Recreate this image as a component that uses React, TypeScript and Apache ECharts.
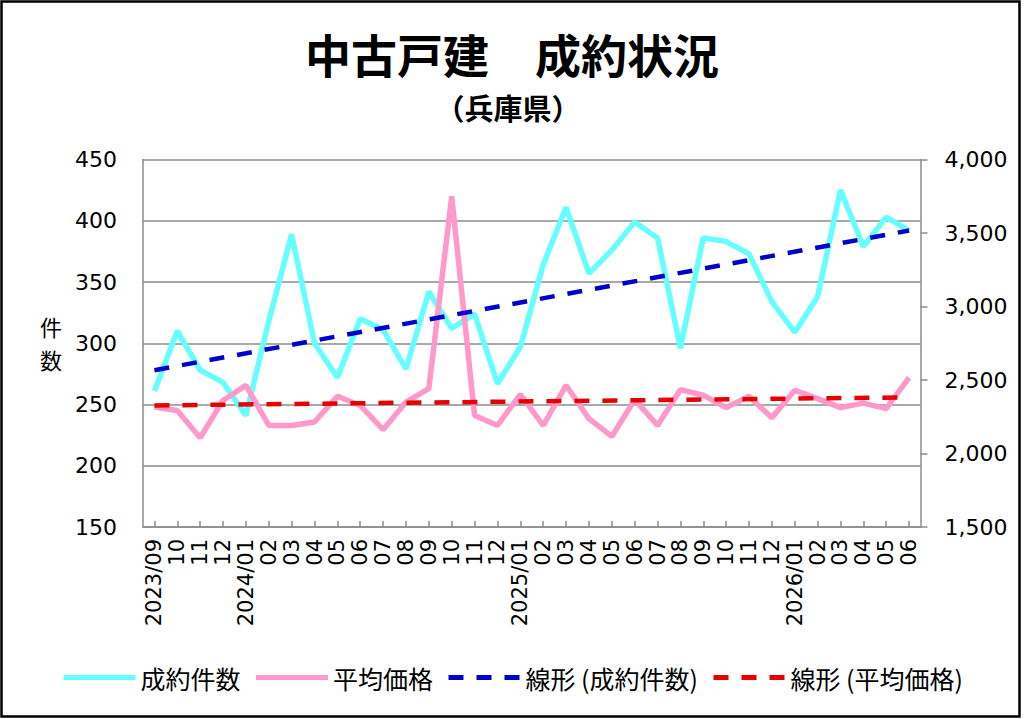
import React, { useEffect, useRef } from "react";
import * as echarts from "echarts";

const categories = [
  "2023/09", "10", "11", "12",
  "2024/01", "02", "03", "04", "05", "06", "07", "08", "09", "10", "11", "12",
  "2025/01", "02", "03", "04", "05", "06", "07", "08", "09", "10", "11", "12",
  "2026/01", "02", "03", "04", "05", "06",
];

const countValues = [
  261, 310, 278, 268, 241, 318, 389, 300, 272, 320, 311, 279, 342, 312, 324, 267,
  297, 364, 411, 357, 376, 399, 386, 296, 386, 383, 373, 334, 309, 338, 425, 379, 403, 392,
];

const priceValues = [
  2316, 2293, 2107, 2361, 2464, 2191, 2191, 2214, 2389, 2327, 2162, 2350, 2441, 3750, 2259, 2191,
  2402, 2191, 2464, 2237, 2116, 2366, 2191, 2434, 2396, 2312, 2389, 2243, 2430, 2373, 2312, 2343, 2305, 2516,
];

// trend line end values (first and last month)
const countTrend = [278, 392];
const priceTrend = [2327, 2382];

const leftTicks = { min: 150, max: 450, interval: 50 };
const rightTicks = { min: 1500, max: 4000, interval: 500 };

const FONT = "'DejaVu Sans', 'Noto Sans CJK JP', sans-serif";
const CJK = "'Noto Sans CJK JP', sans-serif";

export default function App() {
  const ref = useRef<HTMLDivElement>(null);

  useEffect(() => {
    document.body.style.margin = "0";
    if (!ref.current) return;
    const chart = echarts.init(ref.current, null, { renderer: "svg" });
    const last = categories.length - 1;
    const gray = "#8c8c8c";
    chart.setOption({
      animation: false,
      backgroundColor: "#ffffff",
      textStyle: { fontFamily: FONT, color: "#000" },
      graphic: [
        {
          type: "rect",
          shape: { x: 1.5, y: 1.5, width: 1018, height: 715 },
          style: { fill: "none", stroke: "#000", lineWidth: 2.5 },
          silent: true,
        },
        {
          type: "text",
          x: 512,
          y: 53,
          style: {
            text: "中古戸建　成約状況",
            font: `bold 46px ${CJK}`,
            fill: "#000",
            align: "center",
            verticalAlign: "middle",
          },
        },
        {
          type: "text",
          x: 508,
          y: 107,
          style: {
            text: "（兵庫県）",
            font: `bold 29px ${CJK}`,
            fill: "#000",
            align: "center",
            verticalAlign: "middle",
          },
        },
        {
          type: "text",
          x: 51,
          y: 326,
          style: {
            text: "件",
            font: `22px ${CJK}`,
            fill: "#000",
            align: "center",
            verticalAlign: "middle",
          },
        },
        {
          type: "text",
          x: 51,
          y: 359,
          style: {
            text: "数",
            font: `22px ${CJK}`,
            fill: "#000",
            align: "center",
            verticalAlign: "middle",
          },
        },
      ],
      legend: {
        top: 660,
        left: "center",
        itemWidth: 72,
        itemHeight: 14,
        itemGap: 13,
        itemStyle: { opacity: 0, borderWidth: 0 },
        lineStyle: { width: 5 },
        textStyle: { fontSize: 25, fontFamily: CJK, color: "#000" },
        data: ["成約件数", "平均価格", "線形 (成約件数)", "線形 (平均価格)"],
      },
      grid: { left: 143, right: 103.5, top: 159.5, bottom: 192, containLabel: false },
      xAxis: {
        type: "category",
        data: categories,
        boundaryGap: true,
        axisLine: { show: true, lineStyle: { color: gray, width: 1.5 } },
        axisTick: { show: true, alignWithLabel: true, inside: true, length: 6, lineStyle: { color: gray, width: 1.5 } },
        axisLabel: { interval: 0, rotate: 90, margin: 12, fontSize: 21, color: "#000", fontFamily: FONT },
      },
      yAxis: [
        {
          type: "value",
          min: leftTicks.min,
          max: leftTicks.max,
          interval: leftTicks.interval,
          position: "left",
          axisLine: { show: true, lineStyle: { color: gray, width: 1.5 } },
          axisTick: { show: false },
          axisLabel: { fontSize: 22, margin: 26, color: "#000", fontFamily: FONT },
          splitLine: { show: true, lineStyle: { color: gray, width: 1.5 } },
        },
        {
          type: "value",
          min: rightTicks.min,
          max: rightTicks.max,
          interval: rightTicks.interval,
          position: "right",
          axisLine: { show: true, lineStyle: { color: gray, width: 1.5 } },
          axisTick: { show: true, inside: false, length: 7, lineStyle: { color: gray, width: 1.5 } },
          axisLabel: {
            fontSize: 22,
            margin: 24,
            color: "#000",
            fontFamily: FONT,
            formatter: (v: number) => v.toLocaleString("en-US"),
          },
          splitLine: { show: false },
        },
      ],
      series: [
        {
          name: "成約件数",
          type: "line",
          yAxisIndex: 0,
          data: countValues,
          symbol: "none",
          lineStyle: { color: "#66FFFF", width: 5.5 },
          itemStyle: { color: "#66FFFF" },
          z: 3,
        },
        {
          name: "平均価格",
          type: "line",
          yAxisIndex: 1,
          data: priceValues,
          symbol: "none",
          lineStyle: { color: "#FF99CC", width: 5.5 },
          itemStyle: { color: "#FF99CC" },
          z: 3,
        },
        {
          name: "線形 (成約件数)",
          type: "line",
          yAxisIndex: 0,
          data: [
            [categories[0], countTrend[0]],
            [categories[last], countTrend[1]],
          ],
          symbol: "none",
          lineStyle: { color: "#0000CC", width: 4.5, type: [15, 13] },
          itemStyle: { color: "#0000CC" },
          z: 4,
        },
        {
          name: "線形 (平均価格)",
          type: "line",
          yAxisIndex: 1,
          data: [
            [categories[0], priceTrend[0]],
            [categories[last], priceTrend[1]],
          ],
          symbol: "none",
          lineStyle: { color: "#E60000", width: 4.5, type: [15, 13] },
          itemStyle: { color: "#E60000" },
          z: 4,
        },
      ],
    });
    return () => chart.dispose();
  }, []);

  return <div ref={ref} style={{ width: 1024, height: 719 }} />;
}
